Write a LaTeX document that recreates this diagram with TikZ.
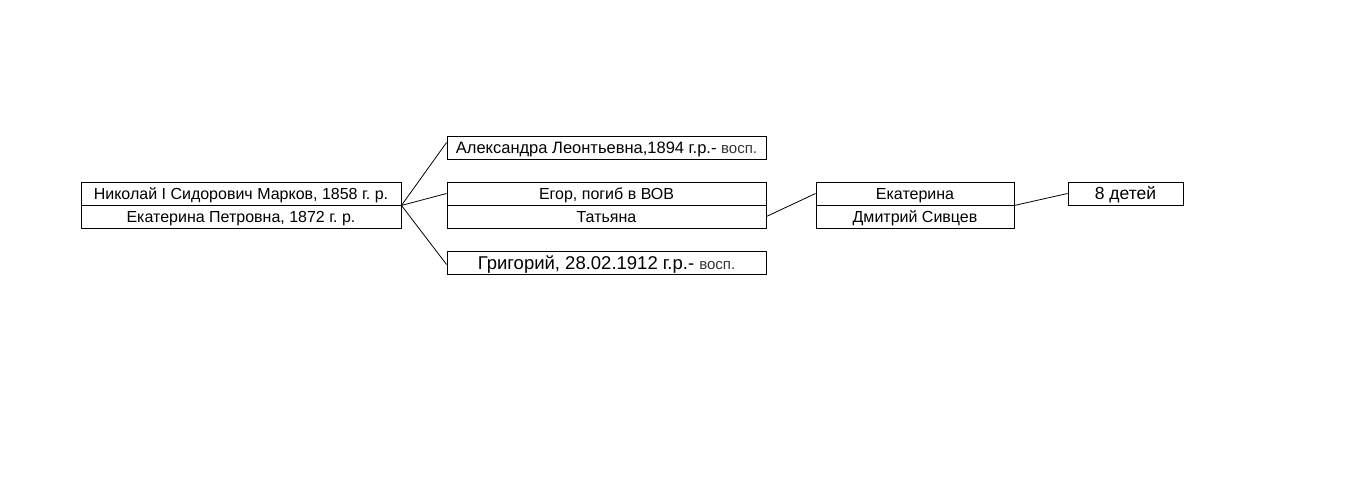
\documentclass[tikz,border=0pt]{standalone}
\usepackage{fontspec}
\setmainfont{Liberation Sans}
\frenchspacing
\begin{document}
\begin{tikzpicture}[x=1pt,y=1pt,
  cell/.style={draw=black,line width=0.9pt,inner sep=0pt,minimum height=23pt,text=black,
    text height=13pt,text depth=0pt,font=\fontsize{16}{18}\selectfont},
  big/.style={font=\fontsize{18.5}{20}\selectfont,text height=13.5pt,text depth=0pt},
  mid/.style={font=\fontsize{17.5}{20}\selectfont,text height=13pt,text depth=0pt},
  conn/.style={draw=black,line width=0.8pt}]
\useasboundingbox (0,0) rectangle (1353,486);
% parents
\node[cell,minimum width=320pt] (pa) at (241,292.5) {Николай I Сидорович Марков, 1858 г. р.};
\node[cell,minimum width=320pt] (pb) at (241,269.5) {Екатерина Петровна, 1872 г. р.};
% children
\node[cell,minimum width=319pt,font=\fontsize{16.5}{18}\selectfont] (al) at (606.5,338.5) {Александра Леонтьевна,1894 г.р.- {\fontsize{15}{16}\selectfont\color{black!80}восп.}};
\node[cell,minimum width=319pt] (eg) at (606.5,292.5) {Егор, погиб в ВОВ};
\node[cell,minimum width=319pt] (ta) at (606.5,269.5) {Татьяна};
\node[cell,big,minimum width=319pt] (gr) at (606.5,223.5) {Григорий, 28.02.1912 г.р.- {\fontsize{15}{16}\selectfont\color{black!80}восп.}};
% grandchildren
\node[cell,minimum width=198pt] (ek) at (915,292.5) {Екатерина};
\node[cell,minimum width=198pt] (dm) at (915,269.5) {Дмитрий Сивцев};
\node[cell,mid,minimum width=115pt] (de) at (1125.5,292.5) {8 детей};
% connectors
\draw[conn] (pa.south east) -- ([yshift=5pt]al.west);
\draw[conn] (pa.south east) -- (eg.west);
\draw[conn] (pa.south east) -- ([yshift=-2pt]gr.west);
\draw[conn] (ta.east) -- (ek.west);
\draw[conn] (ek.south east) -- (de.west);
\end{tikzpicture}
\end{document}
